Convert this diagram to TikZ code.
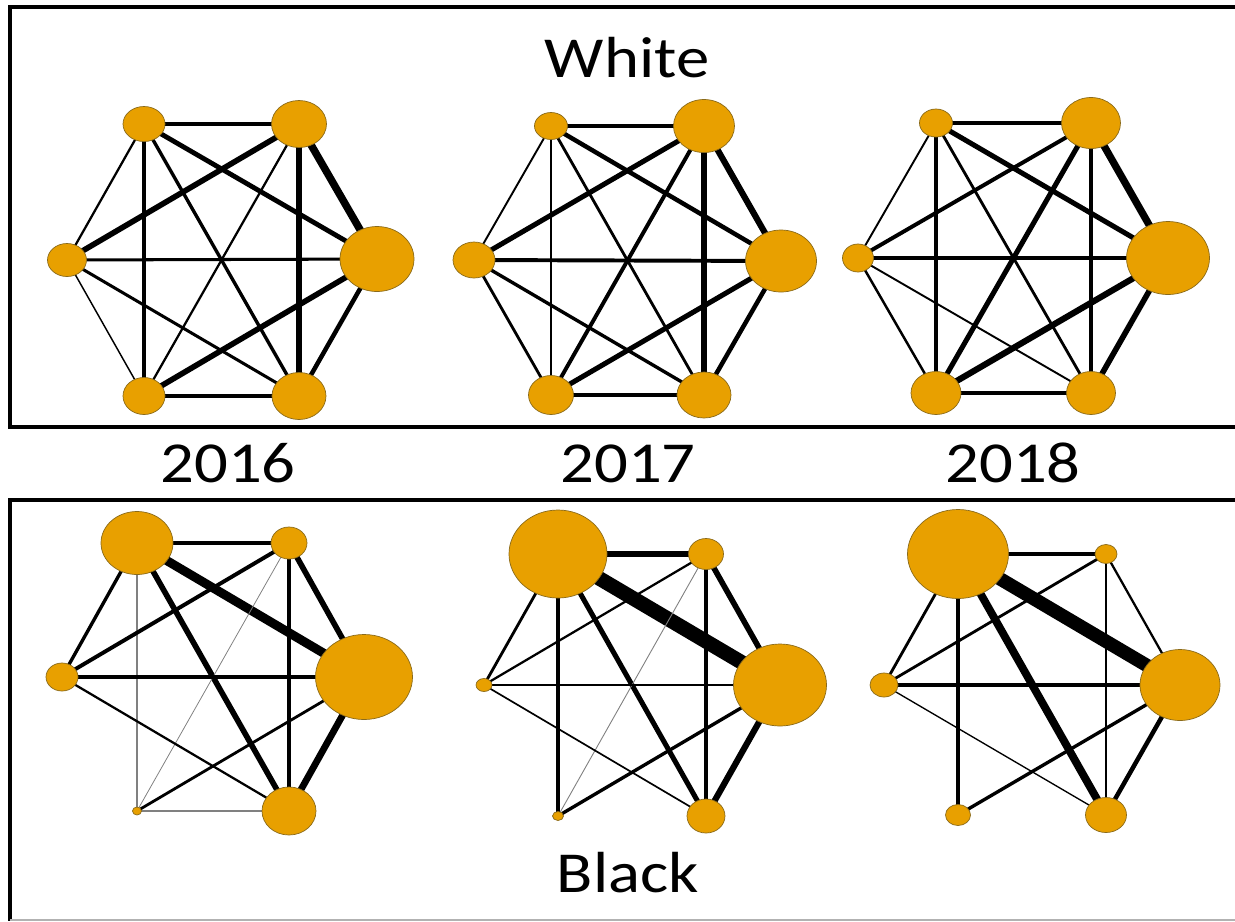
\documentclass[tikz,border=0pt]{standalone}
\usepackage{fontspec}
\newfontfamily\panelfont[FakeStretch=1.15]{Carlito}
\usetikzlibrary{shapes.geometric, backgrounds}

\definecolor{hubfill}{HTML}{E8A000}
\definecolor{hubline}{HTML}{8A6A1A}

\begin{document}
\begin{tikzpicture}[
        x=0.02cm, y=-0.02cm,
        hub/.style={ellipse, fill=hubfill, draw=hubline, line width=0.4pt, inner sep=0pt},
        dim/.style 2 args={minimum width=#1*0.02cm, minimum height=#2*0.02cm},
        link/.style={line width=#1*0.64pt},
        faint/.style={line width=#1*0.64pt, gray},
        frame/.style={line width=2.3pt},
        title/.style={font=\panelfont\fontsize{33}{38}\selectfont, anchor=base, inner sep=0pt}
    ]
    \useasboundingbox (0,0) rectangle (1235,921);

    % Panel frames (open on the right)
    \draw[frame] (1240,7) -- (10,7) -- (10,427) -- (1240,427);
    \draw[frame] (1240,500) -- (10,500) -- (10,921);
    \draw[gray!60, line width=0.8pt] (10,920) -- (1240,920);

    % Labels
    \node[title] (white) at (627,77) {White};
    \node[title] (y2016) at (228,482) {2016};
    \node[title] (y2017) at (628,482) {2017};
    \node[title] (y2018) at (1013,482) {2018};
    \node[title] (black) at (628,892) {Black};

    % White 2016
    \node[hub, dim={42}{35}] (w16a) at (144,124) {};
    \node[hub, dim={55}{47}] (w16b) at (299,124) {};
    \node[hub, dim={74}{65}] (w16c) at (377,259) {};
    \node[hub, dim={54}{47}] (w16d) at (299,396) {};
    \node[hub, dim={42}{37}] (w16e) at (144,396) {};
    \node[hub, dim={39}{33}] (w16f) at (67,260) {};

    % White 2017
    \node[hub, dim={33}{27}] (w17a) at (551,126) {};
    \node[hub, dim={61}{53}] (w17b) at (704,126) {};
    \node[hub, dim={71}{62}] (w17c) at (781,261) {};
    \node[hub, dim={54}{46}] (w17d) at (704,395) {};
    \node[hub, dim={45}{39}] (w17e) at (551,395) {};
    \node[hub, dim={42}{36}] (w17f) at (474,260) {};

    % White 2018
    \node[hub, dim={33}{28}] (w18a) at (936,123) {};
    \node[hub, dim={59}{51}] (w18b) at (1091,123) {};
    \node[hub, dim={83}{73}] (w18c) at (1168,258) {};
    \node[hub, dim={49}{43}] (w18d) at (1091,393) {};
    \node[hub, dim={50}{43}] (w18e) at (936,393) {};
    \node[hub, dim={31}{28}] (w18f) at (858,258) {};

    % Black 2016
    \node[hub, dim={72}{63}] (b16a) at (137,543) {};
    \node[hub, dim={36}{32}] (b16b) at (289,543) {};
    \node[hub, dim={97}{85}] (b16c) at (364,677) {};
    \node[hub, dim={54}{48}] (b16d) at (289,811) {};
    \node[hub, dim={9}{8}]   (b16e) at (137,811) {};
    \node[hub, dim={32}{28}] (b16f) at (62,677) {};

    % Black 2017
    \node[hub, dim={98}{88}] (b17a) at (558,554) {};
    \node[hub, dim={35}{31}] (b17b) at (706,554) {};
    \node[hub, dim={93}{82}] (b17c) at (780,685) {};
    \node[hub, dim={38}{34}] (b17d) at (706,816) {};
    \node[hub, dim={11}{9}]  (b17e) at (558,816) {};
    \node[hub, dim={16}{13}] (b17f) at (484,685) {};

    % Black 2018
    \node[hub, dim={101}{89}] (b18a) at (958,554) {};
    \node[hub, dim={22}{19}]  (b18b) at (1106,554) {};
    \node[hub, dim={80}{71}]  (b18c) at (1180,685) {};
    \node[hub, dim={41}{35}]  (b18d) at (1106,815) {};
    \node[hub, dim={25}{21}]  (b18e) at (958,815) {};
    \node[hub, dim={28}{24}]  (b18f) at (884,685) {};

    \begin{scope}[on background layer]
    % White 2016 ties
    \draw[link=2.7] (w16a.center) -- (w16b.center);
    \draw[link=4.3] (w16a.center) -- (w16c.center);
    \draw[link=3]   (w16a.center) -- (w16d.center);
    \draw[link=2.7] (w16a.center) -- (w16e.center);
    \draw[link=2]   (w16a.center) -- (w16f.center);
    \draw[link=5]   (w16b.center) -- (w16f.center);
    \draw[link=2]   (w16b.center) -- (w16e.center);
    \draw[link=5]   (w16b.center) -- (w16d.center);
    \draw[link=6.7] (w16b.center) -- (w16c.center);
    \draw[link=2.7] (w16c.center) -- (w16f.center);
    \draw[link=5]   (w16c.center) -- (w16e.center);
    \draw[link=4]   (w16c.center) -- (w16d.center);
    \draw[link=2.7] (w16f.center) -- (w16d.center);
    \draw[link=1.3] (w16f.center) -- (w16e.center);
    \draw[link=3]   (w16e.center) -- (w16d.center);

    % White 2017 ties
    \draw[link=3]   (w17a.center) -- (w17b.center);
    \draw[link=4]   (w17a.center) -- (w17c.center);
    \draw[link=2.5] (w17a.center) -- (w17d.center);
    \draw[link=2.5] (w17a.center) -- (w17e.center);
    \draw[link=1.7] (w17a.center) -- (w17f.center);
    \draw[link=4.5] (w17b.center) -- (w17f.center);
    \draw[link=3.5] (w17b.center) -- (w17e.center);
    \draw[link=5]   (w17b.center) -- (w17d.center);
    \draw[link=5.5] (w17b.center) -- (w17c.center);
    \draw[link=3.5] (w17c.center) -- (w17f.center);
    \draw[link=4.5] (w17c.center) -- (w17e.center);
    \draw[link=4]   (w17c.center) -- (w17d.center);
    \draw[link=3]   (w17f.center) -- (w17d.center);
    \draw[link=2.5] (w17f.center) -- (w17e.center);
    \draw[link=3]   (w17e.center) -- (w17d.center);

    % White 2018 ties
    \draw[link=3]   (w18a.center) -- (w18b.center);
    \draw[link=4.5] (w18a.center) -- (w18c.center);
    \draw[link=2.5] (w18a.center) -- (w18d.center);
    \draw[link=3]   (w18a.center) -- (w18e.center);
    \draw[link=1.7] (w18a.center) -- (w18f.center);
    \draw[link=3.5] (w18b.center) -- (w18f.center);
    \draw[link=4.5] (w18b.center) -- (w18e.center);
    \draw[link=4]   (w18b.center) -- (w18d.center);
    \draw[link=6.5] (w18b.center) -- (w18c.center);
    \draw[link=3]   (w18c.center) -- (w18f.center);
    \draw[link=5.5] (w18c.center) -- (w18e.center);
    \draw[link=5]   (w18c.center) -- (w18d.center);
    \draw[link=1.7] (w18f.center) -- (w18d.center);
    \draw[link=2.2] (w18f.center) -- (w18e.center);
    \draw[link=3]   (w18e.center) -- (w18d.center);

    % Black 2016 ties
    \draw[link=3.5] (b16a.center) -- (b16b.center);
    \draw[link=8]   (b16a.center) -- (b16c.center);
    \draw[link=5]   (b16a.center) -- (b16d.center);
    \draw[faint=1]  (b16a.center) -- (b16e.center);
    \draw[link=3]   (b16a.center) -- (b16f.center);
    \draw[link=3.5] (b16b.center) -- (b16f.center);
    \draw[faint=0.7] (b16b.center) -- (b16e.center);
    \draw[link=4]   (b16b.center) -- (b16d.center);
    \draw[link=5]   (b16b.center) -- (b16c.center);
    \draw[link=3.5] (b16c.center) -- (b16f.center);
    \draw[link=2.5] (b16c.center) -- (b16e.center);
    \draw[link=6]   (b16c.center) -- (b16d.center);
    \draw[link=2]   (b16f.center) -- (b16d.center);
    \draw[faint=1]  (b16e.center) -- (b16d.center);

    % Black 2017 ties
    \draw[link=5]   (b17a.center) -- (b17b.center);
    \draw[link=13]  (b17a.center) -- (b17c.center);
    \draw[link=4.5] (b17a.center) -- (b17d.center);
    \draw[link=3]   (b17a.center) -- (b17e.center);
    \draw[link=2.5] (b17a.center) -- (b17f.center);
    \draw[link=2]   (b17b.center) -- (b17f.center);
    \draw[faint=0.8] (b17b.center) -- (b17e.center);
    \draw[link=3]   (b17b.center) -- (b17d.center);
    \draw[link=5]   (b17b.center) -- (b17c.center);
    \draw[link=1.5] (b17c.center) -- (b17f.center);
    \draw[link=3]   (b17c.center) -- (b17e.center);
    \draw[link=5.5] (b17c.center) -- (b17d.center);
    \draw[link=1.5] (b17f.center) -- (b17d.center);

    % Black 2018 ties
    \draw[link=4]   (b18a.center) -- (b18b.center);
    \draw[link=12]  (b18a.center) -- (b18c.center);
    \draw[link=7]   (b18a.center) -- (b18d.center);
    \draw[link=3.5] (b18a.center) -- (b18e.center);
    \draw[link=2.5] (b18a.center) -- (b18f.center);
    \draw[link=2.5] (b18b.center) -- (b18f.center);
    \draw[link=2.5] (b18b.center) -- (b18d.center);
    \draw[link=2]   (b18b.center) -- (b18c.center);
    \draw[link=3.5] (b18c.center) -- (b18f.center);
    \draw[link=3]   (b18c.center) -- (b18e.center);
    \draw[link=4]   (b18c.center) -- (b18d.center);
    \draw[link=1.2] (b18f.center) -- (b18d.center);
    \end{scope}

\end{tikzpicture}
\end{document}
